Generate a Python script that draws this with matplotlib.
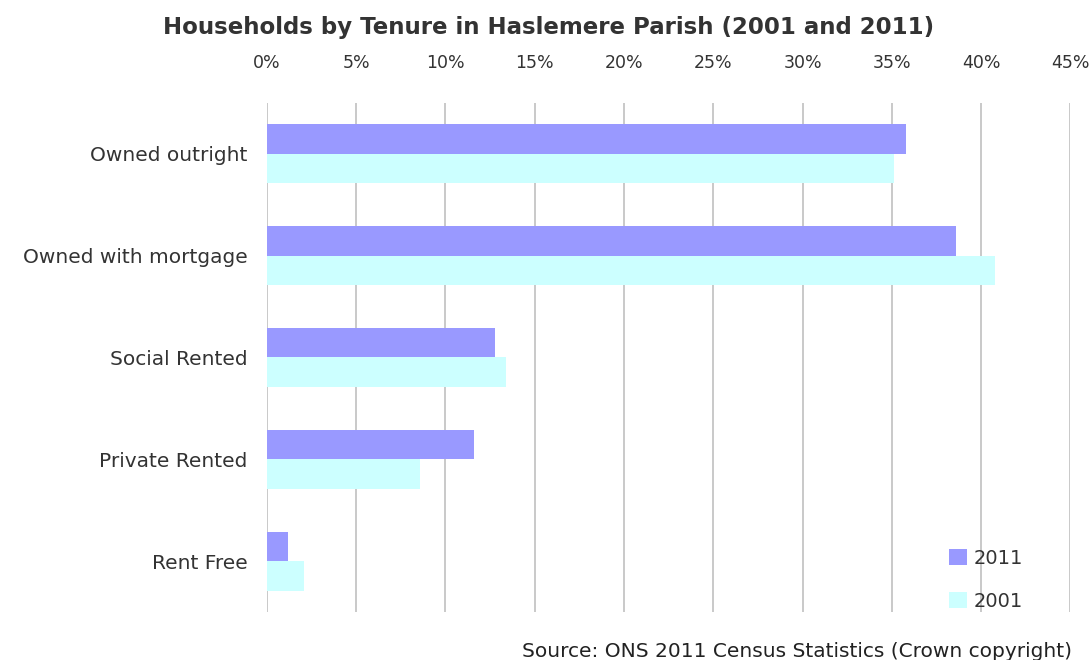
import numpy as np
import matplotlib.pyplot as plt
from matplotlib.ticker import FuncFormatter

# Data
categories = ['Owned outright', 'Owned with mortgage', 'Social Rented', 'Private Rented', 'Rent Free']
pct_2011 = [35.8, 38.6, 12.8, 11.6, 1.2]
pct_2001 = [35.1, 40.8, 13.4, 8.6, 2.1]

plt.rcParams['font.family'] = ['DejaVu Sans']
txt = '#333333'

fig = plt.figure(figsize=(10.91, 6.6), dpi=100)
ax = fig.add_axes([0.2447, 0.0727, 0.7363, 0.7713])

y = np.arange(len(categories))
h = 0.29
ax.barh(y - h / 2, pct_2011, height=h, color='#9999FF', label='2011', zorder=3)
ax.barh(y + h / 2, pct_2001, height=h, color='#CCFFFF', label='2001', zorder=3)

ax.set_xlim(0, 45)
ax.set_ylim(4.5, -0.5)
ax.set_xticks(np.arange(0, 46, 5))
ax.xaxis.set_major_formatter(FuncFormatter(lambda v, p: '%d%%' % v))
ax.xaxis.tick_top()
ax.tick_params(axis='x', length=0, pad=22, labelsize=12.5, labelcolor=txt)
ax.set_yticks(y)
ax.set_yticklabels(categories)
ax.tick_params(axis='y', length=0, pad=14, labelsize=14.5, labelcolor=txt)
ax.grid(axis='x', color='#C0C0C0', linewidth=1.2, zorder=0)
for s in ax.spines.values():
    s.set_visible(False)

ax.legend(loc='lower right', bbox_to_anchor=(0.963, -0.032), frameon=False, fontsize=14,
          labelcolor=txt, handlelength=0.9, handleheight=0.9, labelspacing=1.25, handletextpad=0.35)

fig.text(0.503, 0.958, 'Households by Tenure in Haslemere Parish (2001 and 2011)', ha='center',
         va='center', fontsize=16.5, fontweight='bold', color=txt)
fig.text(0.983, 0.013, 'Source: ONS 2011 Census Statistics (Crown copyright)', ha='right',
         va='center', fontsize=14.5, color='#222222')

plt.savefig('out.png')
